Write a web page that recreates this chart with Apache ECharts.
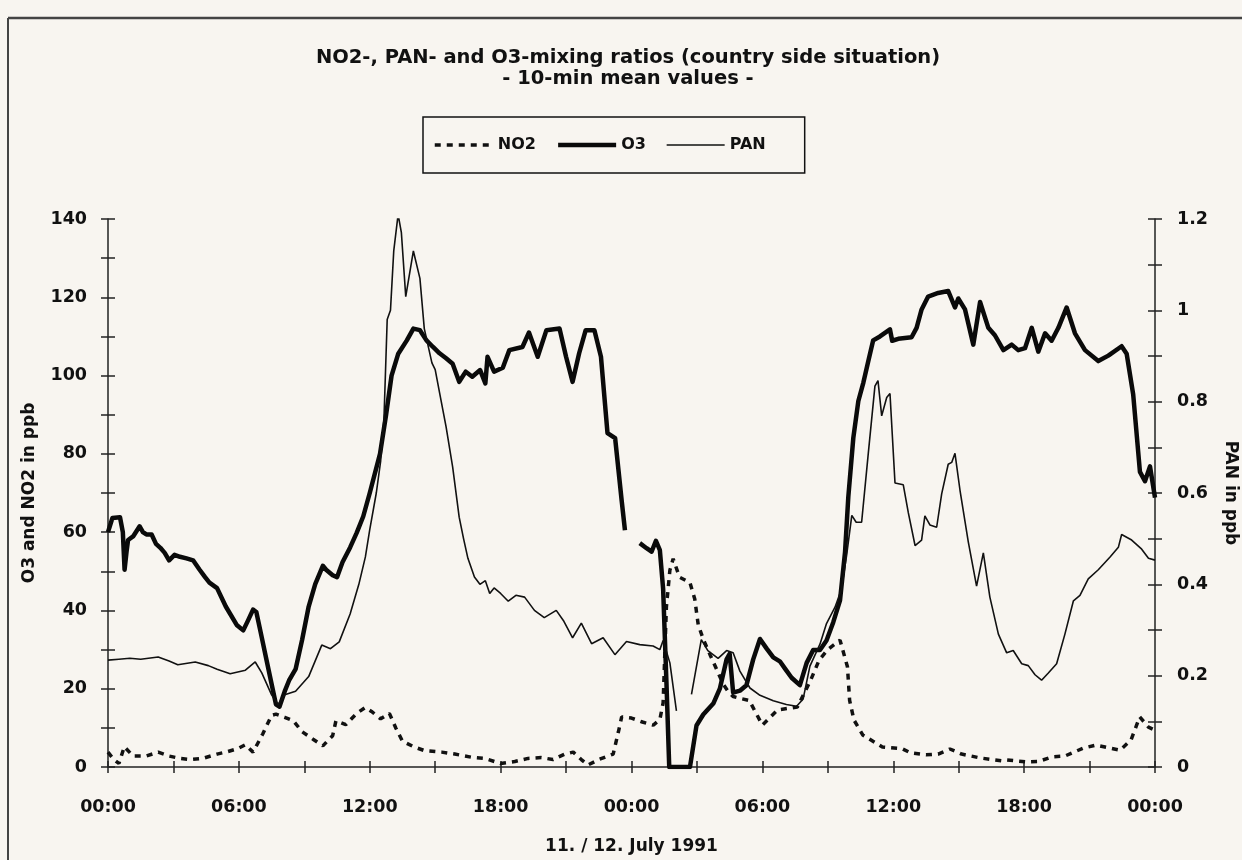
<!DOCTYPE html>
<html>
<head>
<meta charset="utf-8">
<script src="https://cdn.jsdelivr.net/npm/echarts@6/dist/echarts.min.js"></script>
<style>
html,body{margin:0;padding:0;background:#f8f5f0;overflow:hidden;}
#chart{width:1242px;height:860px;}
</style>
</head>
<body>
<div id="chart"></div>
<script>
// ---- data: [hour since 11 July 00:00, value] ----
const titleLines = ['NO2-, PAN- and O3-mixing ratios (country side situation)', '- 10-min mean values -'];
const seriesNames = ['NO2', 'O3', 'PAN'];
const xTickHours = [0, 6, 12, 18, 24, 30, 36, 42, 48];

const o3 = [[0.0,60],[0.08,60.3],[0.2,63.6],[0.55,63.8],[0.68,60],[0.76,50.4],[0.85,55],[0.92,58],[1.15,58.9],[1.45,61.5],[1.6,60],[1.76,59.4],[2.0,59.4],[2.2,57],[2.4,56],[2.6,54.7],[2.8,52.8],[3.05,54.2],[3.3,53.7],[3.6,53.3],[3.9,52.8],[4.2,50.4],[4.45,48.5],[4.65,47.1],[5.0,45.7],[5.4,41],[5.9,36.3],[6.2,34.9],[6.4,37.2],[6.65,40.2],[6.8,39.6],[7.0,34.4],[7.25,27.8],[7.5,21.2],[7.7,16],[7.86,15.4],[8.1,19.3],[8.3,22.1],[8.6,25],[8.9,32.5],[9.2,41],[9.5,46.7],[9.85,51.4],[10.0,50.4],[10.3,49],[10.5,48.5],[10.75,52.3],[11.1,56.1],[11.4,59.8],[11.7,64],[12.0,70],[12.47,80],[12.75,90],[13.0,100],[13.3,105.5],[13.7,109],[14.0,112],[14.3,111.6],[14.6,109],[14.9,107.3],[15.2,105.7],[15.5,104.4],[15.8,103],[16.1,98.4],[16.4,101],[16.7,99.7],[17.06,101.4],[17.3,98],[17.4,104.8],[17.7,101],[18.1,102],[18.4,106.5],[19.0,107.3],[19.3,111],[19.7,104.8],[20.1,111.6],[20.7,112],[21.0,104.8],[21.3,98.4],[21.6,105.7],[21.9,111.6],[22.3,111.6],[22.6,104.8],[22.9,85.3],[23.25,84],[23.55,68],[23.7,60.5],[24.0,null],[24.38,57.2],[24.69,55.9],[24.92,55],[25.12,57.8],[25.3,55.4],[25.45,45.5],[25.6,21.9],[25.73,0],[26.68,0],[26.98,10.6],[27.29,13.4],[27.75,16.2],[28.05,20],[28.36,27.5],[28.5,28.9],[28.66,19],[28.97,19.5],[29.27,20.9],[29.58,27.5],[29.89,32.7],[30.19,30.3],[30.5,28],[30.8,27],[31.03,25.2],[31.34,22.8],[31.72,20.9],[32.03,26.6],[32.33,29.9],[32.64,29.9],[32.94,32.3],[33.25,37],[33.56,42.6],[33.79,54.9],[33.94,69],[34.17,84.1],[34.4,93.5],[34.63,98.2],[34.86,103.8],[35.08,109],[35.39,110],[35.62,110.9],[35.85,111.8],[35.95,108.9],[36.23,109.4],[36.84,109.8],[37.07,112.2],[37.3,116.9],[37.6,120.2],[38.06,121.1],[38.52,121.6],[38.83,117.4],[38.98,119.7],[39.29,116.9],[39.67,107.9],[39.98,118.8],[40.36,112.2],[40.66,110.3],[41.05,106.5],[41.43,107.9],[41.73,106.5],[42.04,107],[42.35,112.2],[42.65,106.1],[42.96,110.8],[43.26,108.9],[43.57,112.2],[43.95,117.4],[44.33,110.8],[44.79,106.5],[45.4,103.7],[45.86,105.1],[46.47,107.5],[46.7,105.6],[47.0,95.2],[47.31,75.4],[47.54,73],[47.77,76.8],[48.0,68.8]];

const pan = [[0,0.234],[0.5,0.236],[1.0,0.238],[1.5,0.236],[2.3,0.241],[2.8,0.232],[3.2,0.224],[4.0,0.23],[4.6,0.222],[5.0,0.214],[5.6,0.204],[6.3,0.212],[6.75,0.23],[7.05,0.206],[7.5,0.158],[7.8,0.137],[8.1,0.158],[8.6,0.166],[9.2,0.198],[9.8,0.267],[10.2,0.259],[10.6,0.274],[11.1,0.335],[11.5,0.4],[11.8,0.46],[12.0,0.52],[12.3,0.6],[12.5,0.67],[12.65,0.76],[12.8,0.98],[12.95,1.0],[13.1,1.13],[13.3,1.21],[13.45,1.17],[13.65,1.03],[14.0,1.13],[14.3,1.07],[14.5,0.96],[14.85,0.885],[15.0,0.87],[15.2,0.82],[15.5,0.745],[15.8,0.657],[16.1,0.547],[16.3,0.5],[16.5,0.457],[16.8,0.416],[17.05,0.4],[17.3,0.408],[17.5,0.38],[17.7,0.392],[18.0,0.38],[18.35,0.363],[18.7,0.376],[19.1,0.372],[19.55,0.343],[20.0,0.327],[20.55,0.343],[20.9,0.319],[21.3,0.283],[21.7,0.315],[22.17,0.27],[22.7,0.283],[23.24,0.246],[23.77,0.275],[24.38,0.268],[24.99,0.265],[25.3,0.257],[25.45,0.277],[25.76,0.228],[26.06,0.123],[26.4,null],[26.75,0.159],[27.2,0.279],[27.5,0.255],[27.97,0.238],[28.36,0.255],[28.66,0.25],[28.97,0.21],[29.43,0.173],[29.89,0.157],[30.5,0.145],[31.1,0.137],[31.57,0.133],[31.87,0.149],[32.18,0.221],[32.64,0.269],[32.94,0.314],[33.33,0.35],[33.63,0.39],[33.86,0.463],[34.1,0.551],[34.3,0.536],[34.55,0.536],[34.86,0.689],[35.16,0.834],[35.3,0.846],[35.47,0.769],[35.7,0.809],[35.85,0.818],[36.08,0.622],[36.46,0.618],[36.69,0.557],[37.0,0.485],[37.3,0.497],[37.45,0.55],[37.68,0.53],[37.99,0.525],[38.22,0.598],[38.52,0.663],[38.68,0.667],[38.83,0.687],[39.06,0.606],[39.44,0.493],[39.82,0.396],[40.13,0.469],[40.43,0.372],[40.82,0.291],[41.2,0.25],[41.5,0.255],[41.89,0.226],[42.19,0.222],[42.5,0.202],[42.8,0.19],[43.11,0.206],[43.49,0.226],[43.87,0.291],[44.26,0.364],[44.56,0.376],[44.94,0.412],[45.4,0.432],[45.94,0.46],[46.32,0.481],[46.47,0.509],[46.93,0.497],[47.39,0.477],[47.7,0.457],[48.0,0.453]];

const no2 = [[0,3.8],[0.25,2],[0.5,0.9],[0.75,5.2],[1.15,2.8],[1.75,2.8],[2.3,3.8],[2.8,2.8],[3.3,2.2],[3.8,1.9],[4.35,2.2],[5.0,3.3],[5.4,3.8],[5.95,4.7],[6.3,5.7],[6.65,3.8],[7.1,8.5],[7.5,13.2],[7.7,13.5],[8.1,12.7],[8.5,11.8],[8.9,9],[9.4,7.1],[9.85,5.4],[10.3,8],[10.45,11.8],[10.9,10.8],[11.4,13.7],[11.8,15.2],[12.08,14.2],[12.5,12.3],[12.9,13.7],[13.2,9.9],[13.5,6.6],[14.0,5.2],[14.5,4.2],[15.3,3.8],[15.9,3.3],[16.66,2.5],[17.27,2.2],[18.0,0.9],[18.65,1.4],[19.26,2.2],[19.87,2.4],[20.4,1.9],[20.94,3.3],[21.33,3.8],[21.7,1.9],[22.0,0.5],[22.5,1.9],[23.16,3.3],[23.4,9],[23.55,12.8],[24.0,12.5],[24.5,11.5],[25.0,10.7],[25.3,12.1],[25.45,16.4],[25.6,40.9],[25.76,50.3],[25.91,53.2],[26.2,48.5],[26.68,47.1],[26.9,42.9],[27.06,36.3],[27.3,32.5],[27.6,28.7],[27.9,25],[28.2,21.2],[28.43,19.3],[28.66,18],[29.0,17.5],[29.4,17],[30.0,10.7],[30.7,14.6],[31.6,15.3],[32.2,22],[32.6,27.3],[33.0,30],[33.56,32.4],[33.9,25.6],[34.0,17],[34.2,12],[34.6,8.2],[35.5,5.1],[36.4,4.7],[36.8,3.6],[37.5,3.1],[38.06,3.3],[38.6,4.6],[39.13,3.3],[40.0,2.3],[40.97,1.6],[41.2,1.8],[42.1,1.3],[42.65,1.4],[43.3,2.6],[43.87,2.8],[44.7,4.8],[45.3,5.6],[46.4,4.3],[46.9,6.9],[47.3,12.8],[47.7,10.2],[48.0,9.4]];

const FONT = '"DejaVu Sans", sans-serif';
const INK = '#111';
const pad2 = n => (n < 10 ? '0' : '') + n;

const chart = echarts.init(document.getElementById('chart'), null, {renderer: 'canvas', width: 1242, height: 860});

const lineStyles = {
  NO2: {color: INK, width: 3.5, type: [6, 6], cap: 'butt'},
  O3: {color: '#0a0a0a', width: 4.5, type: 'solid', join: 'round'},
  PAN: {color: INK, width: 1.6, type: 'solid'}
};

const baseX = {type: 'value', min: 0, max: 48, interval: 3};
const option = {
  backgroundColor: '#f8f5f0',
  animation: false,
  title: {
    text: titleLines.join('\n'),
    left: 623, top: 42, textAlign: 'center',
    textStyle: {fontFamily: FONT, fontWeight: 'bold', fontSize: 19.5, lineHeight: 21, color: INK}
  },
  legend: {
    data: seriesNames.map(n => ({name: n, lineStyle: lineStyles[n]})),
    left: 423, top: 117,
    orient: 'horizontal',
    itemWidth: 58, itemHeight: 14, itemGap: 20,
    padding: [20, 39, 20, 10],
    borderColor: INK, borderWidth: 1.5,
    itemStyle: {opacity: 0},
    textStyle: {fontFamily: FONT, fontWeight: 'bold', fontSize: 16, color: INK},
    selectedMode: false
  },
  grid: {left: 108, top: 219, width: 1047, height: 548, containLabel: false, outerBoundsMode: 'none'},
  xAxis: [
    Object.assign({}, baseX, {
      position: 'bottom',
      name: '11. / 12. July 1991', nameLocation: 'middle', nameGap: 71,
      nameTextStyle: {fontFamily: FONT, fontWeight: 'bold', fontSize: 17, color: INK},
      axisLine: {onZero: false, lineStyle: {color: '#222', width: 1.5}},
      axisTick: {inside: false, length: 6, lineStyle: {color: '#222', width: 1.5}},
      axisLabel: {margin: 31, fontFamily: FONT, fontWeight: 'bold', fontSize: 17.5, color: INK,
        formatter: v => xTickHours.indexOf(v) >= 0 ? pad2(v % 24) + ':00' : ''},
      splitLine: {show: false}
    }),
    Object.assign({}, baseX, {
      position: 'bottom',
      axisLine: {show: false, onZero: false},
      axisTick: {inside: true, length: 6, lineStyle: {color: '#222', width: 1.5}},
      axisLabel: {show: false},
      splitLine: {show: false}
    })
  ],
  yAxis: [
    {
      type: 'value', min: 0, max: 140, interval: 10, position: 'left',
      name: 'O3 and NO2 in ppb', nameLocation: 'middle', nameGap: 70, nameRotate: 90,
      nameTextStyle: {fontFamily: FONT, fontWeight: 'bold', fontSize: 17, color: INK},
      axisLine: {show: true, onZero: false, lineStyle: {color: '#222', width: 1.5}},
      axisTick: {show: true, inside: false, length: 7, lineStyle: {color: '#222', width: 1.5}},
      axisLabel: {margin: 21, fontFamily: FONT, fontWeight: 'bold', fontSize: 17.5, color: INK,
        formatter: v => (Math.round(v) % 20 === 0 ? String(Math.round(v)) : '')},
      splitLine: {show: false}
    },
    {
      type: 'value', min: 0, max: 1.2, interval: 0.1, position: 'right',
      name: 'PAN in ppb', nameLocation: 'middle', nameGap: 67, nameRotate: -90,
      nameTextStyle: {fontFamily: FONT, fontWeight: 'bold', fontSize: 17, color: INK},
      axisLine: {show: true, onZero: false, lineStyle: {color: '#222', width: 1.5}},
      axisTick: {show: true, inside: false, length: 7, lineStyle: {color: '#222', width: 1.5}},
      axisLabel: {margin: 22, fontFamily: FONT, fontWeight: 'bold', fontSize: 17.5, color: INK,
        formatter: v => { const r = Math.round(v * 10); return r % 2 === 0 ? String(r / 10) : ''; }},
      splitLine: {show: false}
    },
    {
      type: 'value', min: 0, max: 140, interval: 10, position: 'left',
      axisLine: {show: false, onZero: false},
      axisTick: {show: true, inside: true, length: 7, lineStyle: {color: '#222', width: 1.5}},
      axisLabel: {show: false}, splitLine: {show: false}
    },
    {
      type: 'value', min: 0, max: 1.2, interval: 0.1, position: 'right',
      axisLine: {show: false, onZero: false},
      axisTick: {show: true, inside: true, length: 7, lineStyle: {color: '#222', width: 1.5}},
      axisLabel: {show: false}, splitLine: {show: false}
    }
  ],
  series: [
    {
      name: 'NO2', type: 'line', xAxisIndex: 0, yAxisIndex: 0, data: no2,
      showSymbol: false, symbol: 'none', connectNulls: false, z: 3,
      itemStyle: {color: INK}, lineStyle: lineStyles.NO2
    },
    {
      name: 'O3', type: 'line', xAxisIndex: 0, yAxisIndex: 0, data: o3,
      showSymbol: false, symbol: 'none', connectNulls: false, z: 4,
      itemStyle: {color: INK}, lineStyle: lineStyles.O3
    },
    {
      name: 'PAN', type: 'line', xAxisIndex: 0, yAxisIndex: 1, data: pan,
      showSymbol: false, symbol: 'none', connectNulls: false, z: 5,
      itemStyle: {color: INK}, lineStyle: lineStyles.PAN
    }
  ],
  graphic: [
    {type: 'line', shape: {x1: 8, y1: 18, x2: 1242, y2: 18}, style: {stroke: '#444', lineWidth: 2.5}, silent: true},
    {type: 'line', shape: {x1: 8, y1: 18, x2: 8, y2: 860}, style: {stroke: '#444', lineWidth: 2}, silent: true}
  ]
};
chart.setOption(option);
</script>
</body>
</html>
